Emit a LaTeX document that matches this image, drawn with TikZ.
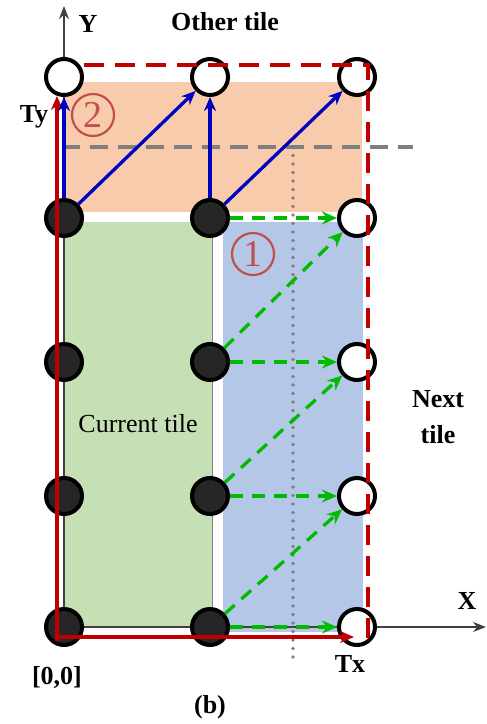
\documentclass[tikz,border=0pt]{standalone}
\usepackage{fontspec}
\setmainfont{Liberation Serif}
\usetikzlibrary{arrows.meta}
\definecolor{orng}{HTML}{F8CBAD}
\definecolor{grn}{HTML}{C5E0B4}
\definecolor{blu}{HTML}{B4C7E7}
\definecolor{redd}{HTML}{C00000}
\definecolor{bluarr}{HTML}{0000C0}
\definecolor{grnarr}{HTML}{00BB00}
\definecolor{numred}{HTML}{C0504D}
\definecolor{dk}{HTML}{262626}
\definecolor{guide}{HTML}{7F7F7F}
\tikzset{
  wnode/.style={circle,draw=black,fill=white,line width=4pt,minimum size=36pt,inner sep=0pt},
  bnode/.style={circle,draw=black,fill=dk,line width=4pt,minimum size=36pt,inner sep=0pt},
  barrow/.style={draw=bluarr,line width=3.3pt,-{Stealth[length=14pt,width=12pt]}},
  garrow/.style={draw=grnarr,line width=3.3pt,dash pattern=on 13pt off 9pt,-{Stealth[length=15pt,width=13pt]}},
  rarrow/.style={draw=redd,line width=3.3pt,-{Stealth[length=14pt,width=12pt]}},
  lbl/.style={font=\fontsize{26}{30}\selectfont\bfseries,inner sep=0pt},
  circnum/.style={circle,draw=numred,text=numred,line width=2.2pt,minimum size=42pt,inner sep=0pt,font=\fontsize{38}{38}\selectfont},
}
\begin{document}
\begin{tikzpicture}[x=1pt,y=-1pt]
\useasboundingbox (0,0) rectangle (487,724);
% tile regions
\fill[orng] (65,82) rectangle (362,212);
\fill[grn] (64,222) rectangle (212,627);
\draw[gray,line width=1pt] (64,222) -- (64,627) -- (212,627) -- (212,222);
\fill[blu] (223,222) rectangle (363,632);
% gray guide lines
\draw[guide,line width=3.5pt,dash pattern=on 18pt off 10pt] (62,147) -- (413,147);
\draw[guide,line width=3.6pt,line cap=round,dash pattern=on 0pt off 8.5pt] (293,147) -- (293,658);
% axes
\coordinate (ax0) at (64,627);
\coordinate (axx) at (486,627);
\coordinate (axy) at (64,6);
\draw[black!75,line width=1.2pt,-{Stealth[length=13pt,width=10pt]}] (ax0) -- (axx);
\draw[black!75,line width=1.2pt,-{Stealth[length=13pt,width=10pt]}] (ax0) -- (axy);
% circles
\node[wnode] (w11) at (64,77) {};
\node[wnode] (w12) at (210,77) {};
\node[wnode] (w13) at (357,77) {};
\node[bnode] (b21) at (64,218) {};
\node[bnode] (b22) at (210,218) {};
\node[wnode] (w23) at (357,218) {};
\node[bnode] (b31) at (64,362) {};
\node[bnode] (b32) at (210,362) {};
\node[wnode] (w33) at (357,362) {};
\node[bnode] (b41) at (64,496) {};
\node[bnode] (b42) at (210,496) {};
\node[wnode] (w43) at (357,496) {};
\node[bnode] (b51) at (64,627) {};
\node[bnode] (b52) at (210,627) {};
\node[wnode] (w53) at (357,627) {};
% red dashed tile border
\coordinate (rd1) at (84,65);
\coordinate (rd2) at (368,65);
\coordinate (rd3) at (368,645);
\draw[redd,line width=3.3pt,dash pattern=on 20pt off 11pt] (rd1) -- (rd2) -- (rd3);
% red axes arrows
\coordinate (ro1) at (57,641);
\coordinate (ro2) at (57,637);
\coordinate (rty) at (57,96);
\coordinate (rtx) at (354,637);
\draw[rarrow] (ro1) -- (rty);
\draw[rarrow] (ro2) -- (rtx);
% blue arrows
\draw[barrow] (b21) -- (w11);
\draw[barrow] (b21) -- (w12);
\draw[barrow] (b22) -- (w12);
\draw[barrow] (b22) -- (w13);
% green arrows
\draw[garrow] (b22) -- (w23);
\draw[garrow] (b32) -- (w33);
\draw[garrow] (b42) -- (w43);
\draw[garrow] (b52) -- (w53);
\draw[garrow] (b32) -- (w23);
\draw[garrow] (b42) -- (w33);
\draw[garrow] (b52) -- (w43);
% circled numbers
\node[circnum] (n2) at (93,115) {2};
\node[circnum] (n1) at (253,254) {1};
% labels
\node[lbl] (ly) at (88,24) {Y};
\node[lbl] (lo) at (225,22) {Other tile};
\node[lbl] (lty) at (34,117) {Ty};
\node[lbl] (lx) at (467,601) {X};
\node[lbl] (ltx) at (350,664) {Tx};
\node[lbl] (l00) at (57,677) {[0,0]};
\node[lbl] (lb) at (210,707) {(b)};
\node[lbl,align=center,font=\fontsize{26}{36}\selectfont\bfseries] (lnt) at (438,417) {Next\\tile};
\node[inner sep=0pt,font=\fontsize{26}{30}\selectfont] (lct) at (138,424) {Current tile};
\end{tikzpicture}
\end{document}
